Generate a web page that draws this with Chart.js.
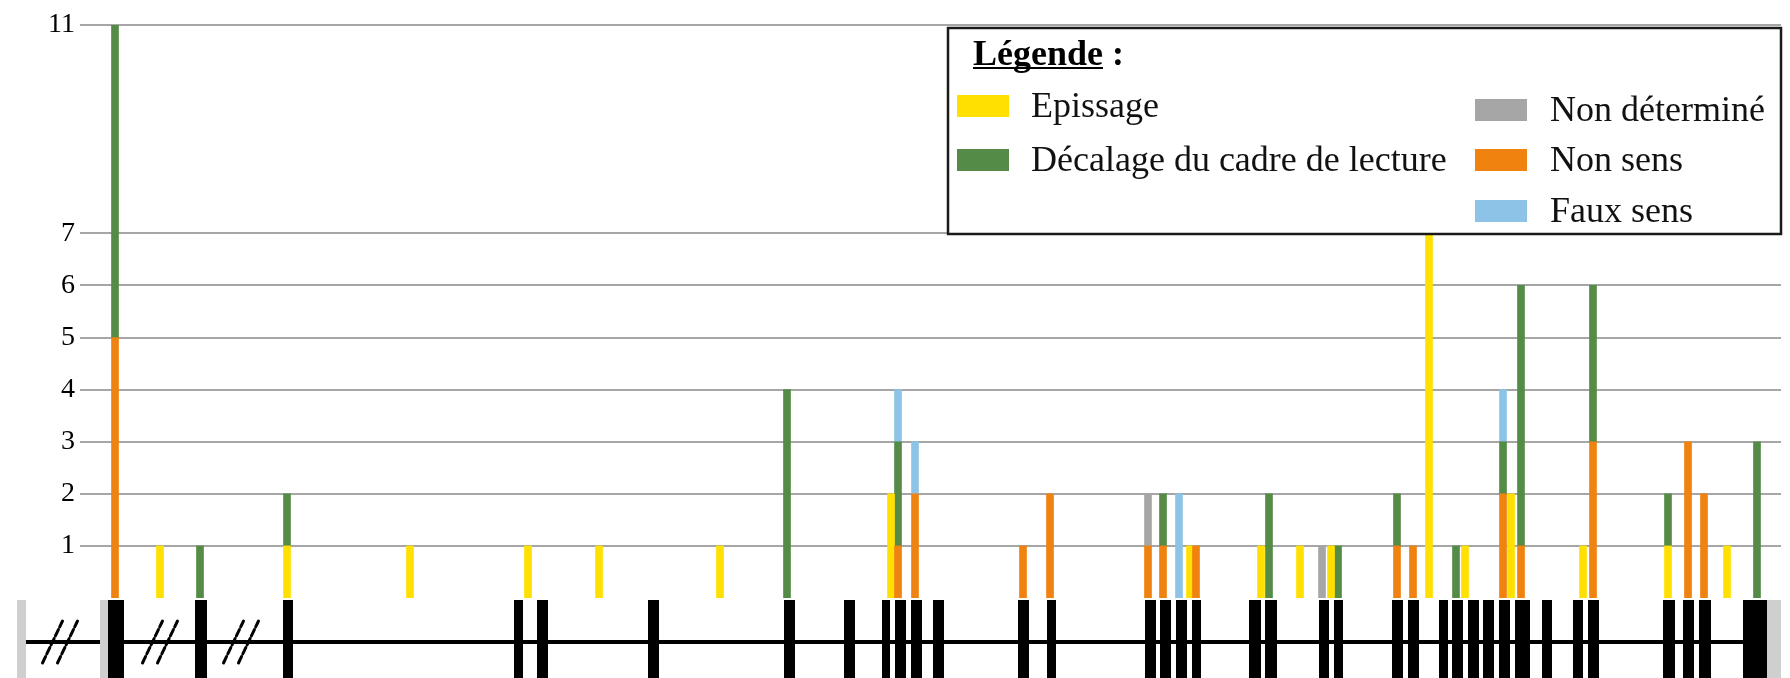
<!DOCTYPE html>
<html>
<head>
<meta charset="utf-8">
<script src="https://cdn.jsdelivr.net/npm/chart.js@4.4.1/dist/chart.umd.min.js"></script>
<style>
  html, body { margin:0; padding:0; background:#fff; }
  #wrap { width:1790px; height:678px; position:relative; }
</style>
</head>
<body>
<div id="wrap"><canvas id="chart-mutations"></canvas></div>
<script>
// ── Data ──────────────────────────────────────────────────────
// mutation positions along the gene (same units as the exon map)
const positions = [35, 80, 120, 207, 330, 448, 519, 640, 707, 811,
                   818, 835, 943, 970, 1068, 1083, 1099, 1110, 1116, 1181,
                   1189, 1220, 1242, 1251, 1258, 1317, 1333, 1349, 1376, 1385,
                   1423, 1431, 1441, 1503, 1513, 1588, 1608, 1624, 1647, 1677];

const nonSens      = [5,0,0,0,0,0,0,0,0,0, 1,2,1,2,1,1,0,0,1,0, 0,0,0,0,0,1,1,0,0,0, 2,0,1,0,3,0,3,2,0,0];
const epissage     = [0,1,0,1,1,1,1,1,0,2, 0,0,0,0,0,0,0,1,0,1, 0,1,0,1,0,0,0,7,0,1, 0,2,0,1,0,1,0,0,1,0];
const decalage     = [6,0,1,1,0,0,0,0,4,0, 2,0,0,0,0,1,0,0,0,0, 2,0,0,0,1,1,0,0,1,0, 1,0,5,0,3,1,0,0,0,3];
const nonDetermine = [0,0,0,0,0,0,0,0,0,0, 0,0,0,0,1,0,0,0,0,0, 0,0,1,0,0,0,0,0,0,0, 0,0,0,0,0,0,0,0,0,0];
const fauxSens     = [0,0,0,0,0,0,0,0,0,0, 1,1,0,0,0,0,2,0,0,0, 0,0,0,0,0,0,0,0,0,0, 1,0,0,0,0,0,0,0,0,0];

const yTicks = [1, 2, 3, 4, 5, 6, 7, 11];

// gene structure: exons [start, end], grey UTR ends, axis breaks
const exons = [[28,44],[115,127],[203,213],[434,443],[457,468],[568,579],[704,715],[764,775],
               [802,810],[815,826],[831,842],[853,864],[938,949],[967,976],[1065,1076],[1080,1091],
               [1096,1107],[1112,1121],[1169,1181],[1185,1197],[1239,1249],[1254,1263],[1312,1323],
               [1328,1339],[1359,1368],[1372,1383],[1388,1399],[1403,1414],[1419,1430],[1435,1450],
               [1462,1472],[1493,1503],[1508,1519],[1583,1595],[1603,1614],[1619,1631],[1663,1687]];
const utrBoxes = [[-63,-54],[20,28],[1687,1701]];
const breaks   = [-20, 80, 161];

const C = { orange:'#F0820F', yellow:'#FFE000', green:'#548B46', grey:'#A6A6A6', blue:'#8CC3E6' };

const series = [
  { label:'Non sens',                     data:nonSens,      color:C.orange },
  { label:'Epissage',                     data:epissage,     color:C.yellow },
  { label:'Décalage du cadre de lecture', data:decalage,     color:C.green },
  { label:'Non déterminé',                data:nonDetermine, color:C.grey },
  { label:'Faux sens',                    data:fauxSens,     color:C.blue },
];

// ── Gene track under the axis ─────────────────────────────────
const geneTrack = {
  id:'geneTrack',
  afterDraw(chart) {
    const { ctx, chartArea, scales:{ x } } = chart;
    const px = v => x.getPixelForValue(v);
    const top = chartArea.bottom + 2, bottom = chart.height, mid = chartArea.bottom + 44;
    ctx.save();
    ctx.fillStyle = '#000';
    const l0 = px(utrBoxes[0][1]), l1 = px(exons[exons.length-1][0]);
    ctx.fillRect(l0, mid-2, l1-l0, 4);
    ctx.fillStyle = '#CFCFCF';
    utrBoxes.forEach(([a,b]) => ctx.fillRect(px(a), top, px(b)-px(a), bottom-top));
    ctx.fillStyle = '#000';
    exons.forEach(([a,b]) => ctx.fillRect(px(a), top, px(b)-px(a), bottom-top));
    ctx.strokeStyle = '#000'; ctx.lineWidth = 3; ctx.lineCap = 'round';
    ctx.setLineDash([7,3]);
    breaks.forEach(b => {
      [-7.5, 7.5].forEach(off => {
        const cx = px(b) + off;
        ctx.beginPath(); ctx.moveTo(cx-10, mid+21); ctx.lineTo(cx+10, mid-21); ctx.stroke();
      });
    });
    ctx.restore();
  }
};

// ── Boxed legend (two columns) ────────────────────────────────
const boxLegend = {
  id:'boxLegend',
  afterDraw(chart) {
    const { ctx } = chart;
    const ds = chart.data.datasets;
    const find = lbl => ds.find(d => d.label === lbl);
    const slots = [
      [ 'Epissage', 957, 1031, 117 ],
      [ 'Décalage du cadre de lecture', 957, 1031, 171 ],
      [ 'Non déterminé', 1475, 1550, 121 ],
      [ 'Non sens', 1475, 1550, 171 ],
      [ 'Faux sens', 1475, 1550, 222 ],
    ];
    ctx.save();
    ctx.fillStyle = '#fff';
    ctx.fillRect(948, 28, 833, 206);
    ctx.strokeStyle = '#1a1a1a'; ctx.lineWidth = 2.5;
    ctx.strokeRect(948, 28, 833, 206);
    ctx.fillStyle = '#000';
    ctx.textBaseline = 'alphabetic'; ctx.textAlign = 'left';
    ctx.font = 'bold 36px "Liberation Serif", serif';
    const t = 'Légende';
    ctx.fillText(t, 973, 65);
    const tw = ctx.measureText(t).width;
    ctx.fillRect(973, 67, tw, 2);
    ctx.fillText(' :', 973 + tw, 65);
    ctx.font = '36px "Liberation Serif", serif';
    slots.forEach(([lbl, sx, tx, base]) => {
      const d = find(lbl);
      ctx.fillStyle = d.backgroundColor;
      ctx.fillRect(sx, base-22, 52, 22);
      ctx.fillStyle = '#111';
      ctx.fillText(lbl, tx, base);
    });
    ctx.restore();
  }
};

// ── Chart ─────────────────────────────────────────────────────
new Chart(document.getElementById('chart-mutations').getContext('2d'), {
  type:'bar',
  data:{
    labels: positions,
    datasets: series.map(s => ({
      label: s.label,
      data: s.data.map(v => v || null),
      backgroundColor: s.color,
      borderWidth: 0,
      barThickness: 7,
    })),
  },
  options:{
    responsive:true, maintainAspectRatio:false, animation:false,
    layout:{ padding:{ top:25, right:9, bottom:80, left:0 } },
    plugins:{ legend:{ display:false }, tooltip:{ enabled:false } },
    scales:{
      x:{ type:'linear', min:0, max:1701, stacked:true, display:false, offset:false },
      y:{
        min:0, max:11, stacked:true,
        border:{ display:false },
        grid:{ color:'#A6A6A6', lineWidth:2, drawTicks:false },
        ticks:{ color:'#000', padding:5, font:{ family:'"Liberation Serif", serif', size:28 } },
        afterBuildTicks: sc => { sc.ticks = yTicks.map(v => ({ value:v })); },
        afterFit: sc => { sc.width = 80; },
      },
    },
  },
  plugins:[geneTrack, boxLegend],
});
</script>
</body>
</html>
